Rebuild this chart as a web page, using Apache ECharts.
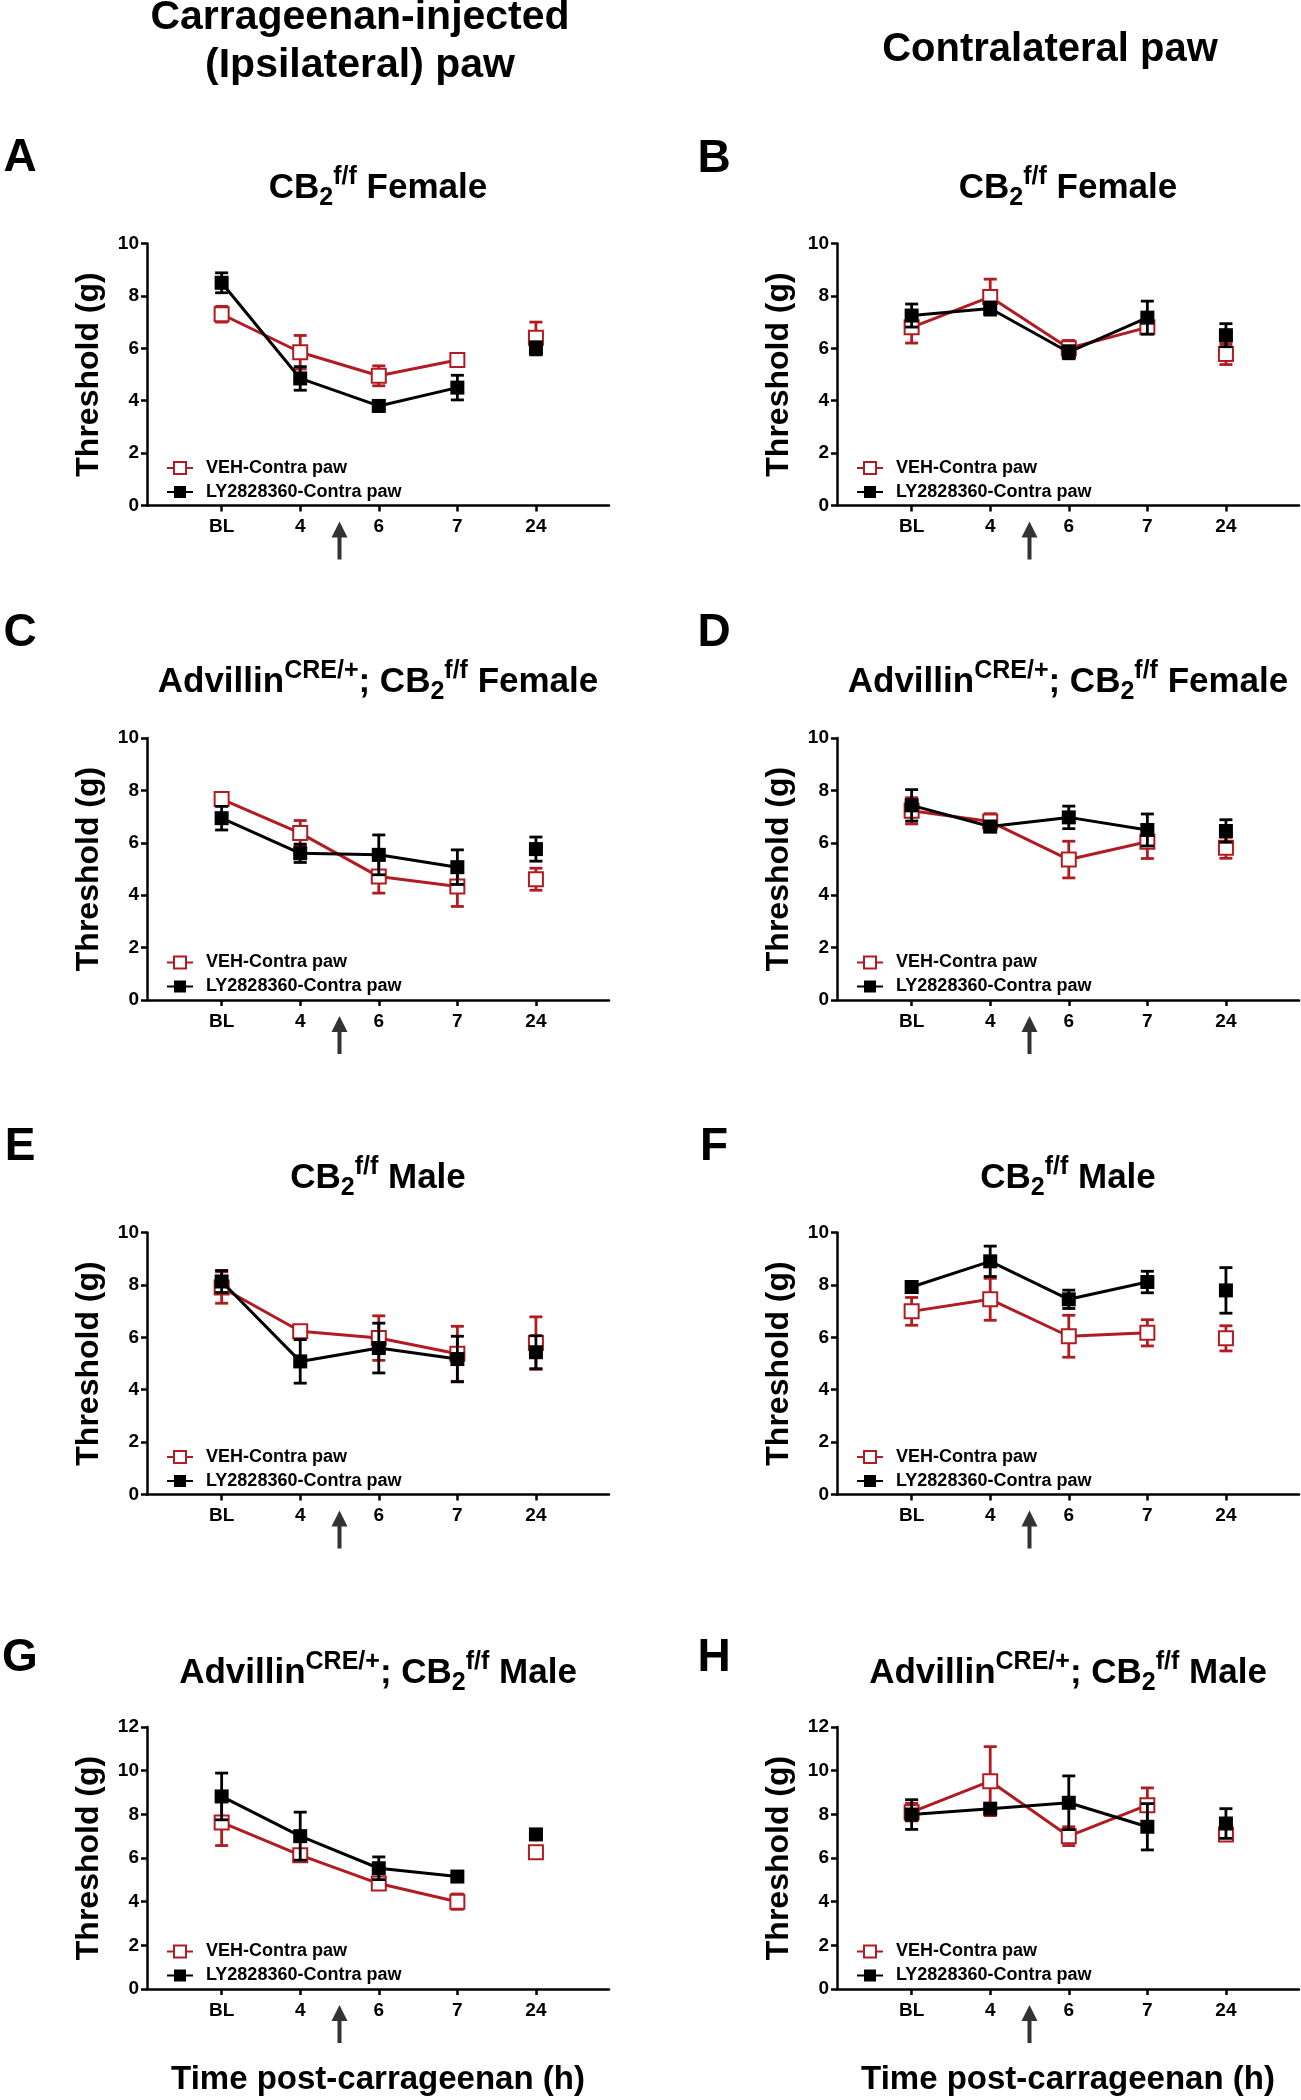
<!DOCTYPE html>
<html><head><meta charset="utf-8">
<script src="https://cdn.jsdelivr.net/npm/echarts@6/dist/echarts.min.js"></script>
<style>html,body{margin:0;padding:0;background:#fff}#c{width:1301px;height:2100px}</style>
</head><body><div id="c"></div>
<script>
// ---------- DATA ----------
const timeLabels = ['BL', '4', '6', '7', '24'];
const timeIndex = [0, 1, 2, 3, 4];
const arrowPos = 1.5; // drug injection marker between 4 h and 6 h
const seriesNames = ['VEH-Contra paw', 'LY2828360-Contra paw'];
const panelLetters = ['A', 'B', 'C', 'D', 'E', 'F', 'G', 'H'];
const panelGenotype = ['CB2', 'CB2', 'Advillin', 'Advillin', 'CB2', 'CB2', 'Advillin', 'Advillin'];
const panelSex = ['Female', 'Female', 'Female', 'Female', 'Male', 'Male', 'Male', 'Male'];
const panelYMax = [10, 10, 10, 10, 10, 10, 12, 12];
const columnHeaders = ['Carrageenan-injected\n(Ipsilateral) paw', 'Contralateral paw'];
const yAxisTitle = 'Threshold (g)';
const xAxisTitle = 'Time post-carrageenan (h)';

const A_veh = [7.3, 5.85, 4.95, 5.55, 6.4];
const A_vehErr = [0.3, 0.64, 0.38, 0.2, 0.6];
const A_ly = [8.5, 4.85, 3.8, 4.5, 6.0];
const A_lyErr = [0.38, 0.45, 0.2, 0.47, 0.25];

const B_veh = [6.8, 7.96, 6.0, 6.8, 5.78];
const B_vehErr = [0.6, 0.68, 0.3, 0.2, 0.4];
const B_ly = [7.25, 7.52, 5.85, 7.17, 6.5];
const B_lyErr = [0.44, 0.25, 0.25, 0.63, 0.44];

const C_veh = [7.67, 6.37, 4.71, 4.33, 4.61];
const C_vehErr = [0.15, 0.48, 0.63, 0.76, 0.42];
const C_ly = [6.94, 5.6, 5.54, 5.07, 5.76];
const C_lyErr = [0.45, 0.35, 0.76, 0.66, 0.46];

const D_veh = [7.22, 6.81, 5.36, 6.04, 5.81];
const D_vehErr = [0.5, 0.3, 0.7, 0.64, 0.4];
const D_ly = [7.43, 6.62, 6.97, 6.49, 6.45];
const D_lyErr = [0.6, 0.2, 0.43, 0.61, 0.43];

const E_veh = [7.9, 6.23, 5.97, 5.37, 5.78];
const E_vehErr = [0.6, 0.2, 0.85, 1.05, 1.0];
const E_ly = [8.13, 5.08, 5.59, 5.17, 5.43];
const E_lyErr = [0.42, 0.83, 0.95, 0.87, 0.63];

const F_veh = [6.99, 7.45, 6.04, 6.17, 5.96];
const F_vehErr = [0.53, 0.8, 0.8, 0.5, 0.48];
const F_ly = [7.92, 8.9, 7.45, 8.11, 7.79];
const F_lyErr = [0.2, 0.58, 0.35, 0.41, 0.87];

const G_veh = [7.63, 6.13, 4.83, 4.0, 6.26];
const G_vehErr = [1.06, 0.15, 0.15, 0.35, 0.1];
const G_ly = [8.82, 7.0, 5.53, 5.15, 7.08];
const G_lyErr = [1.07, 1.1, 0.52, 0.15, 0.2];

const H_veh = [8.1, 9.52, 7.0, 8.42, 7.08];
const H_vehErr = [0.4, 1.58, 0.43, 0.79, 0.2];
const H_ly = [7.99, 8.26, 8.53, 7.43, 7.58];
const H_lyErr = [0.68, 0.15, 1.23, 1.06, 0.68];

const vehValues = [A_veh, B_veh, C_veh, D_veh, E_veh, F_veh, G_veh, H_veh];
const vehErrors = [A_vehErr, B_vehErr, C_vehErr, D_vehErr, E_vehErr, F_vehErr, G_vehErr, H_vehErr];
const lyValues = [A_ly, B_ly, C_ly, D_ly, E_ly, F_ly, G_ly, H_ly];
const lyErrors = [A_lyErr, B_lyErr, C_lyErr, D_lyErr, E_lyErr, F_lyErr, G_lyErr, H_lyErr];

// ---------- STYLE / LAYOUT ----------
const FONT = "'Liberation Sans', Arial, Helvetica, sans-serif";
const RED = '#B01C22';
const BLACK = '#000000';
const X_MIN = -0.95, X_MAX = 4.93;
const colLeft = [147, 837];
const rowTop = [243.5, 738, 1232.5, 1727];
const GRID_W = 462, GRID_H = 262;
const ARROW_OFFSET = 35; // px below the x axis (arrow centre)

const chart = echarts.init(document.getElementById('c'), null, {renderer: 'canvas'});

function lineData(vals) {
  const d = [];
  vals.forEach((v, k) => {
    if (k === vals.length - 1) d.push([(timeIndex[k - 1] + timeIndex[k]) / 2, '-']);
    d.push([timeIndex[k], v]);
  });
  return d;
}
function errData(vals, errs) {
  return vals.map((v, k) => [timeIndex[k], v - errs[k], v + errs[k]]);
}
function errRender(color) {
  return function (params, api) {
    const x = api.value(0), lo = api.value(1), hi = api.value(2);
    const pT = api.coord([x, hi]), pB = api.coord([x, lo]);
    const w = 6.5;
    const st = {stroke: color, lineWidth: 2.8};
    return {type: 'group', children: [
      {type: 'line', shape: {x1: pT[0], y1: pT[1], x2: pB[0], y2: pB[1]}, style: st},
      {type: 'line', shape: {x1: pT[0] - w, y1: pT[1], x2: pT[0] + w, y2: pT[1]}, style: st},
      {type: 'line', shape: {x1: pB[0] - w, y1: pB[1], x2: pB[0] + w, y2: pB[1]}, style: st}
    ]};
  };
}
function titleText(i) {
  const sex = panelSex[i];
  if (panelGenotype[i] === 'Advillin') {
    return '{m|Advillin}{sup|CRE/+}{m|; CB}{sub|2}{sup|f/f}{m| ' + sex + '}';
  }
  return '{m|CB}{sub|2}{sup|f/f}{m| ' + sex + '}';
}
const titleRich = {
  m: {fontSize: 35, fontWeight: 'bold', fontFamily: FONT, fill: '#000', lineHeight: 46},
  sup: {fontSize: 25, fontWeight: 'bold', fontFamily: FONT, fill: '#000', lineHeight: 26, verticalAlign: 'top'},
  sub: {fontSize: 25, fontWeight: 'bold', fontFamily: FONT, fill: '#000', lineHeight: 26, verticalAlign: 'bottom'}
};

const grids = [], xAxes = [], yAxes = [], series = [], legends = [], graphics = [];
const letterPos = [[20, 158], [714, 159], [20, 633], [714, 633], [20, 1147], [714, 1147], [20, 1658], [714, 1658]];
const titleY = [188, 188, 682, 682, 1178, 1178, 1673, 1673];

panelLetters.forEach((letter, i) => {
  const col = i % 2, row = Math.floor(i / 2);
  const left = colLeft[col], top = rowTop[row];
  const ymax = panelYMax[i];
  grids.push({left: left, top: top, width: GRID_W, height: GRID_H, containLabel: false});
  xAxes.push({
    type: 'value', gridIndex: i, min: X_MIN, max: X_MAX,
    name: row === 3 ? xAxisTitle : '', nameLocation: 'middle', nameGap: 74,
    nameTextStyle: {fontSize: 33, fontWeight: 'bold', fontFamily: FONT, color: '#000'},
    axisLine: {onZero: false, lineStyle: {color: '#000', width: 2.5}},
    axisTick: {show: true, customValues: timeIndex, length: 6, lineStyle: {color: '#000', width: 2.5}},
    axisLabel: {customValues: timeIndex, formatter: v => timeLabels[Math.round(v)],
      fontSize: 19, fontWeight: 'bold', color: '#000', margin: 12, fontFamily: FONT},
    splitLine: {show: false}
  });
  yAxes.push({
    type: 'value', gridIndex: i, min: 0, max: ymax, interval: 2,
    name: yAxisTitle, nameLocation: 'middle', nameGap: 42, nameRotate: 90,
    nameTextStyle: {fontSize: 32, fontWeight: 'bold', fontFamily: FONT, color: '#000'},
    axisLine: {show: true, onZero: false, lineStyle: {color: '#000', width: 2.5}},
    axisTick: {show: true, length: 6, lineStyle: {color: '#000', width: 2.5}},
    axisLabel: {fontSize: 19, fontWeight: 'bold', color: '#000', margin: 8, fontFamily: FONT},
    splitLine: {show: false}
  });
  series.push({
    type: 'custom', name: 'veh-err-' + letter, xAxisIndex: i, yAxisIndex: i, z: 2,
    renderItem: errRender(RED), data: errData(vehValues[i], vehErrors[i]), encode: {x: 0, y: [1, 2]}, silent: true
  });
  series.push({
    type: 'line', name: seriesNames[0], xAxisIndex: i, yAxisIndex: i, z: 3,
    data: lineData(vehValues[i]), connectNulls: false,
    symbol: 'emptyRect', symbolSize: 14,
    itemStyle: {color: RED, borderWidth: 3},
    lineStyle: {color: RED, width: 3}
  });
  series.push({
    type: 'custom', name: 'ly-err-' + letter, xAxisIndex: i, yAxisIndex: i, z: 4,
    renderItem: errRender(BLACK), data: errData(lyValues[i], lyErrors[i]), encode: {x: 0, y: [1, 2]}, silent: true
  });
  series.push({
    type: 'line', name: seriesNames[1], xAxisIndex: i, yAxisIndex: i, z: 5,
    data: lineData(lyValues[i]), connectNulls: false,
    symbol: 'rect', symbolSize: 14,
    itemStyle: {color: BLACK},
    lineStyle: {color: BLACK, width: 3}
  });
  series.push({
    type: 'scatter', name: 'arrow-' + letter, xAxisIndex: i, yAxisIndex: i, z: 5, clip: false, silent: true,
    symbol: 'path://M8,0 L16,16 L10,16 L10,38 L6,38 L6,16 L0,16 Z', symbolSize: [16, 38],
    itemStyle: {color: BLACK},
    data: [[arrowPos, -ymax * ARROW_OFFSET / GRID_H]]
  });
  legends.push({
    orient: 'vertical', left: left + 14, top: top + GRID_H - 52,
    data: seriesNames, itemWidth: 26, itemHeight: 15, itemGap: 5, selectedMode: false,
    textStyle: {fontSize: 18, fontWeight: 'bold', color: '#000', fontFamily: FONT, padding: [0, 0, 0, 8], lineHeight: 19}
  });
  graphics.push({type: 'text', x: letterPos[i][0], y: letterPos[i][1],
    style: {text: letter, font: 'bold 46px ' + FONT, fill: '#000', align: 'center', verticalAlign: 'middle'}});
  graphics.push({type: 'text', x: left + GRID_W / 2, y: titleY[i],
    style: {text: titleText(i), rich: titleRich, align: 'center', verticalAlign: 'middle'}});
});

graphics.push({type: 'text', x: 360, y: 42,
  style: {text: columnHeaders[0], font: 'bold 41px ' + FONT, fill: '#000', align: 'center', verticalAlign: 'middle', lineHeight: 48}});
graphics.push({type: 'text', x: 1050, y: 50,
  style: {text: columnHeaders[1], font: 'bold 40px ' + FONT, fill: '#000', align: 'center', verticalAlign: 'middle'}});

chart.setOption({
  animation: false,
  backgroundColor: '#fff',
  grid: grids, xAxis: xAxes, yAxis: yAxes, series: series, legend: legends, graphic: graphics
});
</script>
</body></html>
